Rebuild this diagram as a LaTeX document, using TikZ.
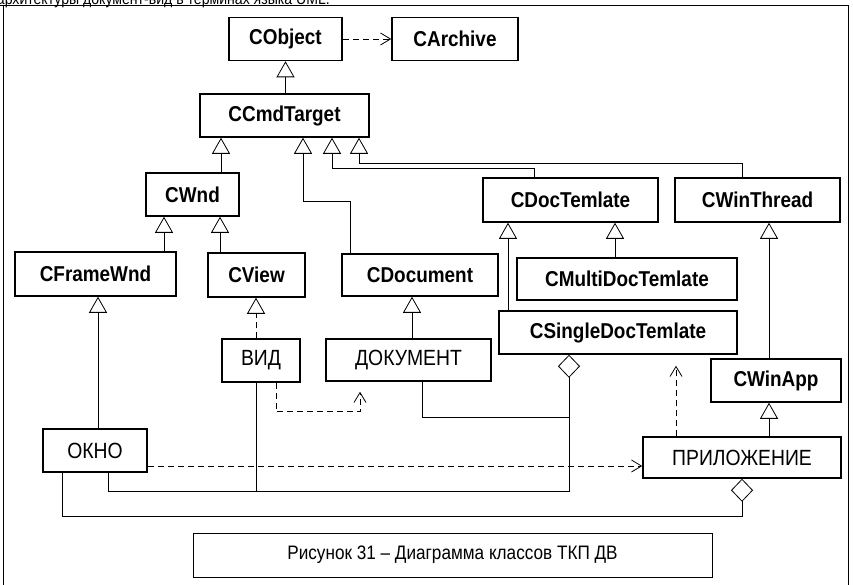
\documentclass[tikz,border=0pt]{standalone}
\usepackage{fontspec}
\setmainfont{Liberation Sans}[FakeStretch=0.88]
\usetikzlibrary{arrows.meta}

\tikzstyle{cls} = [draw, line width=1.5pt, minimum height=43pt, inner sep=0pt, font=\fontsize{21.5}{24}\selectfont\bfseries]
\tikzstyle{obj} = [draw, line width=1.5pt, minimum height=42pt, inner sep=0pt, font=\fontsize{22}{24}\selectfont]
\tikzstyle{line} = [draw, line width=0.8pt]
\tikzstyle{inherit} = [line, -{Triangle[open, length=16pt, width=18pt]}]
\tikzstyle{dep} = [line, dash pattern=on 6pt off 4pt, -{Straight Barb[length=10pt, width=12pt]}]
\tikzstyle{aggr} = [line, -{Diamond[open, length=23pt, width=22pt]}]

\begin{document}
\begin{tikzpicture}[x=1pt, y=-1pt]
	\useasboundingbox (0,0) rectangle (853,584);

	% Frame
	\node[anchor=base east, inner sep=0pt, font=\fontsize{16}{18}\selectfont] (head) at (330,4.5) {архитектуры документ-вид в терминах языка UML.};
	\draw[line] (0,5) -- (848,5);
	\draw[line] (3,5) -- (3,590);
	\draw[line] (848,5) -- (848,590);

	% Top
	\node[cls, minimum width=113pt] (cobject) at (285.5,39) {CObject};
	\node[cls, minimum width=126pt] (carchive) at (455,39) {CArchive};
	\node[cls, minimum width=169pt] (ccmd) at (284.5,115.5) {CCmdTarget};
	\path[dep] (cobject.east) -- (carchive.west);
	\path[inherit] (ccmd.north -| cobject) -- (cobject.south);

	% Classes
	\node[cls, minimum width=93pt] (cwnd) at (192.5,194.5) {CWnd};
	\node[cls, minimum width=175pt, minimum height=44pt] (cdoctpl) at (570.5,200) {CDocTemlate};
	\node[cls, minimum width=165pt, minimum height=44pt] (cwinthread) at (757.5,200) {CWinThread};
	\node[cls, minimum width=161pt, minimum height=44pt] (cframe) at (95.5,274) {CFrameWnd};
	\node[cls, minimum width=97pt, minimum height=44pt] (cview) at (256.5,275) {CView};
	\node[cls, minimum width=156pt, minimum height=42pt] (cdocument) at (420,275) {CDocument};
	\node[cls, minimum width=220pt, minimum height=42pt] (cmulti) at (627,279) {CMultiDocTemlate};
	\node[cls, minimum width=238pt] (csingle) at (618,332.5) {CSingleDocTemlate};
	\node[cls, minimum width=130pt] (cwinapp) at (776,380.5) {CWinApp};
	\path[inherit] (cwnd.north -| 221,0) -- (ccmd.south -| 221,0);
	\path[inherit] (cdocument.north -| 350,0) -- ++(0,-52) -| (ccmd.south -| 303,0);
	\path[inherit] (cdoctpl.north -| 534,0) -- ++(0,-9) -| (ccmd.south -| 332,0);
	\path[inherit] (cwinthread.north -| 742,0) -- ++(0,-14) -| (ccmd.south -| 359,0);
	\path[inherit] (cframe.north -| 164,0) -- (cwnd.south -| 164,0);
	\path[inherit] (cview.north -| 220,0) -- (cwnd.south -| 220,0);
	\path[inherit] (csingle.north -| 508,0) -- (cdoctpl.south -| 508,0);
	\path[inherit] (cmulti.north -| 615,0) -- (cdoctpl.south -| 615,0);
	\path[inherit] (cwinapp.north -| 769,0) -- (cwinthread.south -| 769,0);

	% Objects
	\node[obj, minimum width=78pt, minimum height=43pt] (vid) at (261,360.5) {ВИД};
	\node[obj, minimum width=165pt] (doc) at (408.5,360) {ДОКУМЕНТ};
	\node[obj, minimum width=104pt, minimum height=43pt] (okno) at (95,450.5) {ОКНО};
	\node[obj, minimum width=198pt, minimum height=41pt] (app) at (742,457.5) {ПРИЛОЖЕНИЕ};
	\path[inherit] (okno.north -| 98,0) -- (cframe.south -| 98,0);
	\path[inherit, dash pattern=on 6pt off 4pt] (vid.north -| 256,0) -- (cview.south -| 256,0);
	\path[inherit] (doc.north -| 412,0) -- (cdocument.south -| 412,0);
	\path[inherit] (app.north -| 769,0) -- (cwinapp.south -| 769,0);
	\path[dep, shorten >=10pt] (vid.south -| 276,0) -- ++(0,29) -| (doc.south -| 360,0);
	\path[dep, shorten >=11pt] (app.north -| 676,0) -- (csingle.south -| 676,0);
	\path[dep] (okno.east |- 0,466) -- (app.west |- 0,466);

	% Aggregation
	\coordinate (bus) at (0,491);
	\path[aggr] (okno.south -| 108,0) -- (bus -| 108,0) -| (csingle.south -| 569,0);
	\path[line] (vid.south -| 256,0) -- (bus -| 256,0);
	\path[line] (doc.south -| 422,0) -- ++(0,36) -- ++(147,0);
	\path[aggr] (okno.south -| 62,0) -- ++(0,44) -| (app.south);

	% Caption
	\node[draw, line width=0.8pt, minimum width=519pt, minimum height=44pt, font=\fontsize{19.5}{22}\selectfont] (caption) at (452.5,555) {Рисунок 31 – Диаграмма классов ТКП ДВ};

\end{tikzpicture}
\end{document}
